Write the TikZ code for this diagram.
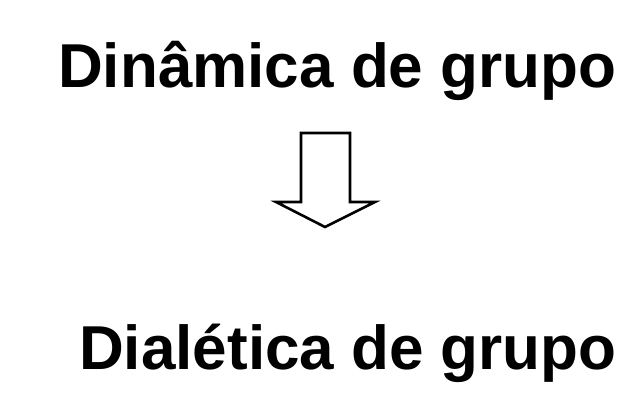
\documentclass[tikz,border=0pt]{standalone}
\usepackage{fontspec}
\setmainfont{Liberation Sans}
\begin{document}
\begin{tikzpicture}[x=1pt,y=1pt]
                \useasboundingbox(0,0)rectangle(640,414);
                \tikzset{titulo/.style={anchor=base west,inner sep=0pt,font=\fontsize{62}{70}\selectfont\bfseries}}
                \node[titulo](D)at(58,326){Dinâmica de grupo};
                \node[titulo](L)at(79,44){Dialética de grupo};
                \coordinate(A1)at(301,281);
                \coordinate(A2)at(350,281);
                \coordinate(A3)at(350,212);
                \coordinate(A4)at(375,212);
                \coordinate(T)at(325,187);
                \coordinate(A5)at(276,212);
                \coordinate(A6)at(301,212);
                \draw[line width=2.6pt,line join=miter,fill=white](A1)--(A2)--(A3)--(A4)--(T)--(A5)--(A6)--cycle;
            \end{tikzpicture}
\end{document}
